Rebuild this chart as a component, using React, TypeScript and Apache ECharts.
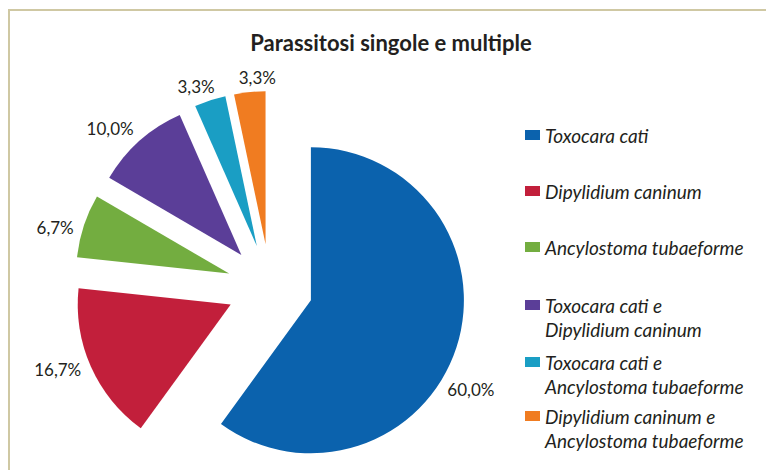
import React, { useEffect, useRef } from 'react';
import * as echarts from 'echarts';

const titleText = 'Parassitosi singole e multiple';
const categories = [
  'Toxocara cati',
  'Dipylidium caninum',
  'Ancylostoma tubaeforme',
  'Toxocara cati e\nDipylidium caninum',
  'Toxocara cati e\nAncylostoma tubaeforme',
  'Dipylidium caninum e\nAncylostoma tubaeforme',
];
const percentages = [60.0, 16.7, 6.7, 10.0, 3.3, 3.3];
const colors = ['#0b62ad', '#c21f3b', '#73ad40', '#5b3e98', '#1a9ec4', '#f07c21'];
// layout only
const labelDistances = [32, 33, 27, 29, 16, 14];
const labelNudges = [
  [-16, 32],
  [-3, -10],
  [-3, 10],
  [-10, 9],
  [-9, 1],
  [9, -1],
];
const legendIconCenters = [135, 191, 247, 305, 362, 416];

const FONT = 'Lato';
const TEXT_COLOR = '#231f20';

export default function App() {
  const ref = useRef<HTMLDivElement>(null);
  useEffect(() => {
    if (!ref.current) return;
    const chart = echarts.init(ref.current, undefined, { renderer: 'svg' });
    const legends = categories.map((name, i) => {
      const multi = name.includes('\n');
      return {
        data: [name],
        orient: 'vertical',
        left: 525,
        top: legendIconCenters[i] - (multi ? 36 : 12),
        padding: 0,
        itemWidth: 15,
        itemHeight: 10,
        icon: 'rect',
        symbolKeepAspect: true,
        selectedMode: false,
        formatter: (n: string) => (n.includes('\n') ? '\n' + n : n),
        textStyle: {
          fontFamily: FONT,
          fontStyle: 'italic',
          fontSize: 19,
          lineHeight: 24,
          color: TEXT_COLOR,
        },
      };
    });
    chart.setOption({
      animation: false,
      backgroundColor: '#ffffff',
      title: {
        text: titleText,
        left: 391,
        top: 31,
        textAlign: 'center',
        padding: 0,
        textStyle: { fontFamily: FONT, fontWeight: 'bold', fontSize: 22, color: TEXT_COLOR },
      },
      legend: legends,
      graphic: [
        {
          type: 'rect',
          silent: true,
          z: -1,
          shape: { x: 9, y: 10, width: 800, height: 500 },
          style: { fill: 'none', stroke: '#cfc8a3', lineWidth: 2 },
        },
      ],
      series: [
        {
          type: 'pie',
          center: [270, 287],
          radius: 153,
          startAngle: 90,
          clockwise: true,
          selectedMode: 'multiple',
          selectedOffset: 43,
          avoidLabelOverlap: false,
          emphasis: { disabled: true },
          itemStyle: { borderWidth: 0 },
          label: {
            show: true,
            position: 'outside',
            formatter: (p: any) => Number(p.value).toFixed(1).replace('.', ',') + '%',
            fontFamily: FONT,
            fontSize: 17,
            color: TEXT_COLOR,
            distanceToLabelLine: 0,
          },
          labelLine: { show: false, length2: 0 },
          labelLayout: (params: any) => ({
            align: 'center',
            dx: labelNudges[params.dataIndex][0],
            dy: labelNudges[params.dataIndex][1],
          }),
          data: categories.map((name, i) => ({
            name,
            value: percentages[i],
            selected: true,
            itemStyle: { color: colors[i] },
            labelLine: { show: false, length: labelDistances[i], length2: 0 },
          })),
        },
      ],
    });
    return () => chart.dispose();
  }, []);
  return (
    <div
      ref={ref}
      style={{ position: 'absolute', left: 0, top: 0, width: 766, height: 470 }}
    />
  );
}
